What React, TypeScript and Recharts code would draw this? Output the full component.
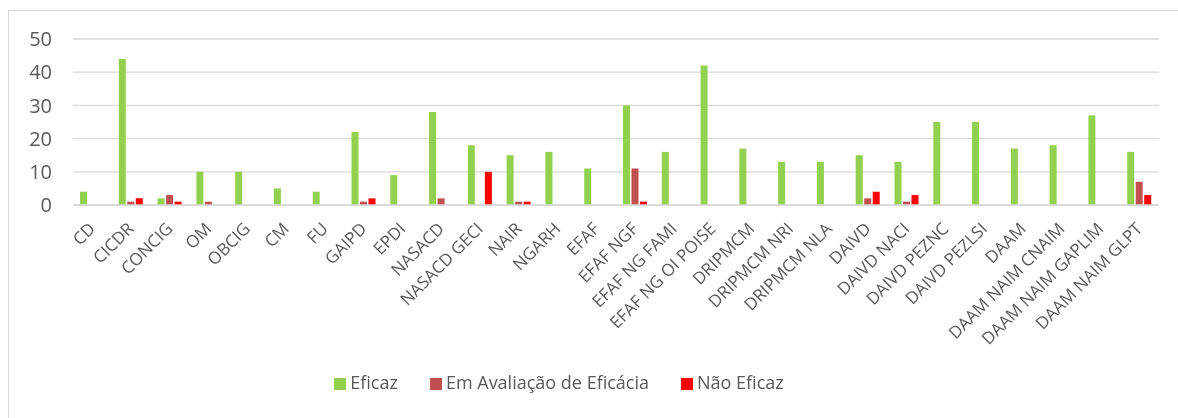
import React from "react";
import {
  BarChart,
  Bar,
  XAxis,
  YAxis,
  CartesianGrid,
  Legend,
} from "recharts";

const categories = [
  "CD",
  "CICDR",
  "CONCIG",
  "OM",
  "OBCIG",
  "CM",
  "FU",
  "GAIPD",
  "EPDI",
  "NASACD",
  "NASACD GECI",
  "NAIR",
  "NGARH",
  "EFAF",
  "EFAF NGF",
  "EFAF NG FAMI",
  "EFAF NG OI POISE",
  "DRIPMCM",
  "DRIPMCM NRI",
  "DRIPMCM NLA",
  "DAIVD",
  "DAIVD NACI",
  "DAIVD PEZNC",
  "DAIVD PEZLSI",
  "DAAM",
  "DAAM NAIM CNAIM",
  "DAAM NAIM GAPLIM",
  "DAAM NAIM GLPT",
];

const eficaz = [4, 44, 2, 10, 10, 5, 4, 22, 9, 28, 18, 15, 16, 11, 30, 16, 42, 17, 13, 13, 15, 13, 25, 25, 17, 18, 27, 16];
const emAvaliacao = [0, 1, 3, 1, 0, 0, 0, 1, 0, 2, 0, 1, 0, 0, 11, 0, 0, 0, 0, 0, 2, 1, 0, 0, 0, 0, 0, 7];
const naoEficaz = [0, 2, 1, 0, 0, 0, 0, 2, 0, 0, 10, 1, 0, 0, 1, 0, 0, 0, 0, 0, 4, 3, 0, 0, 0, 0, 0, 3];

const yTicks = [0, 10, 20, 30, 40, 50];

const data = categories.map((name, i) => ({
  name,
  eficaz: eficaz[i],
  emAvaliacao: emAvaliacao[i],
  naoEficaz: naoEficaz[i],
}));

const FONT = "'Open Sans', sans-serif";
const TEXT = "#595959";

// rotated category labels, ending at the tick
function AngledTick(props: any) {
  const { x, y, payload } = props;
  return (
    <g transform={`translate(${x + 1},${y + 14})`}>
      <text
        textAnchor="end"
        transform="rotate(-45)"
        fill={TEXT}
        fontSize={17}
        fontFamily={FONT}
        dy={4}
      >
        {payload.value}
      </text>
    </g>
  );
}

export default function App() {
  return (
    <div
      style={{
        position: "fixed",
        left: 8,
        top: 10,
        width: 1169,
        height: 420,
        borderTop: "1px solid #d9d9d9",
        borderLeft: "1px solid #d9d9d9",
        fontFamily: FONT,
      }}
    >
      <BarChart
        width={1169}
        height={397}
        data={data}
        margin={{ top: 28, right: 19, left: 0, bottom: 0 }}
        barSize={7}
        barGap={1.5}
      >
        <CartesianGrid vertical={false} stroke="#d9d9d9" strokeWidth={1.3} />
        <XAxis
          dataKey="name"
          interval={0}
          height={203}
          tick={<AngledTick />}
          tickLine={false}
          axisLine={{ stroke: "#d9d9d9", strokeWidth: 1.5 }}
        />
        <YAxis
          width={64}
          domain={[0, 50]}
          ticks={yTicks}
          axisLine={false}
          tickLine={false}
          tickSize={0}
          tickMargin={21}
          tick={{ fill: TEXT, fontSize: 20, fontFamily: FONT }}
        />
        <Legend
          layout="horizontal"
          verticalAlign="middle"
          align="center"
          iconType="square"
          iconSize={12}
          wrapperStyle={{ top: 359, left: 0, width: 1110, fontSize: 18, fontFamily: FONT }}
          formatter={(v: string, _e: any, i: number) => (
            <span style={{ color: TEXT, marginRight: i < 2 ? 22 : 0 }}>{v}</span>
          )}
        />
        <Bar
          dataKey="eficaz"
          name="Eficaz"
          fill="#92D050"
          isAnimationActive={false}
        />
        <Bar
          dataKey="emAvaliacao"
          name="Em Avaliação de Eficácia"
          fill="#C0504D"
          isAnimationActive={false}
        />
        <Bar
          dataKey="naoEficaz"
          name="Não Eficaz"
          fill="#FF0000"
          isAnimationActive={false}
        />
      </BarChart>
    </div>
  );
}
